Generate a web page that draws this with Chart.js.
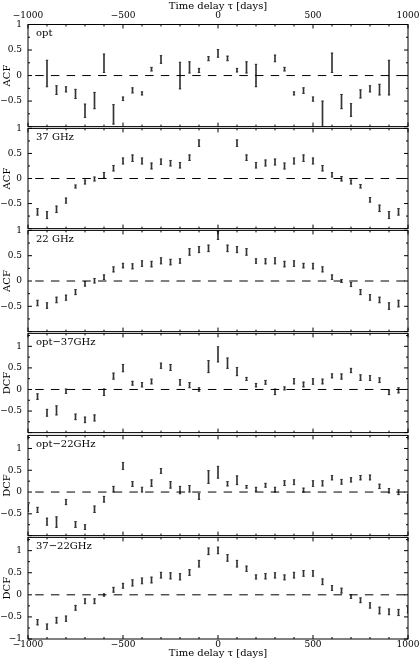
<!DOCTYPE html>
<html>
<head>
<meta charset="utf-8">
<script src="https://cdn.jsdelivr.net/npm/chart.js@4.4.1/dist/chart.umd.min.js"></script>
<style>
  body { margin: 0; background: #fff; }
  #stage { position: relative; width: 420px; height: 664px; overflow: hidden; }
  #stage canvas { position: absolute; left: 0; }
</style>
</head>
<body>
<div id="stage"></div>
<script>
// time lags (days), one slot every 50 days
const lags = [-1000, -950, -900, -850, -800, -750, -700, -650, -600, -550, -500,
  -450, -400, -350, -300, -250, -200, -150, -100, -50, 0,
  50, 100, 150, 200, 250, 300, 350, 400, 450, 500,
  550, 600, 650, 700, 750, 800, 850, 900, 950, 1000];

// lower / upper end of each error bar, null = no point
const optLo = [null, null, -0.22, -0.37, -0.32, -0.45, -0.82, -0.65, 0.06, -0.95, -0.49,
  -0.34, -0.38, 0.09, 0.24, null, -0.26, 0.05, 0.06, 0.29, 0.36,
  0.29, 0.07, 0.05, -0.22, null, 0.27, 0.09, -0.38, -0.35, -0.50,
  -1.05, 0.06, -0.65, -0.80, -0.44, -0.32, -0.38, -0.38, null, null];
const optHi = [null, null, 0.30, -0.20, -0.22, -0.27, -0.56, -0.33, 0.42, -0.57, -0.42,
  -0.24, -0.32, 0.16, 0.39, null, 0.26, 0.27, 0.14, 0.37, 0.51,
  0.38, 0.14, 0.27, 0.22, null, 0.40, 0.16, -0.32, -0.24, -0.42,
  -0.50, 0.44, -0.37, -0.55, -0.28, -0.20, -0.17, 0.30, null, null];

const g37Lo = [null, -0.73, -0.80, -0.68, -0.49, -0.19, -0.11, -0.05, 0.01, 0.15, 0.29,
  0.34, 0.29, 0.19, 0.28, 0.25, 0.21, 0.36, 0.64, null, null,
  null, 0.64, 0.36, 0.21, 0.25, 0.27, 0.19, 0.29, 0.34, 0.29,
  0.15, 0.03, -0.05, -0.11, -0.19, -0.47, -0.66, -0.80, -0.73, null];
const g37Hi = [null, -0.60, -0.66, -0.55, -0.39, -0.13, -0.03, 0.03, 0.12, 0.26, 0.41,
  0.47, 0.41, 0.31, 0.39, 0.36, 0.32, 0.47, 0.77, null, null,
  null, 0.77, 0.47, 0.32, 0.37, 0.39, 0.31, 0.41, 0.47, 0.41,
  0.26, 0.12, 0.04, -0.03, -0.12, -0.38, -0.53, -0.66, -0.60, null];

const g22Lo = [null, -0.49, -0.54, -0.43, -0.38, -0.27, -0.10, -0.04, 0.03, 0.18, 0.26,
  0.24, 0.29, 0.28, 0.34, 0.32, 0.35, 0.51, 0.56, 0.58, 0.82,
  0.58, 0.56, 0.51, 0.35, 0.34, 0.34, 0.28, 0.29, 0.26, 0.24,
  0.18, 0.03, -0.03, -0.11, -0.27, -0.38, -0.43, -0.56, -0.51, null];
const g22Hi = [null, -0.38, -0.43, -0.32, -0.28, -0.17, -0.01, 0.05, 0.12, 0.28, 0.35,
  0.34, 0.40, 0.39, 0.46, 0.43, 0.44, 0.64, 0.68, 0.71, 0.98,
  0.71, 0.68, 0.64, 0.44, 0.44, 0.46, 0.39, 0.40, 0.35, 0.35,
  0.28, 0.12, 0.03, -0.03, -0.17, -0.27, -0.32, -0.43, -0.38, null];

const o37Lo = [null, -0.23, -0.62, -0.59, -0.09, -0.70, -0.77, -0.73, -0.14, 0.24, 0.41,
  0.10, 0.06, 0.13, 0.49, 0.44, 0.10, 0.04, -0.04, 0.39, 0.64,
  0.49, 0.32, 0.21, 0.06, 0.12, -0.12, -0.01, 0.13, 0.06, 0.12,
  0.13, 0.27, 0.24, 0.39, 0.21, 0.21, 0.16, -0.12, -0.08, null];
const o37Hi = [null, -0.10, -0.46, -0.38, 0.01, -0.57, -0.64, -0.59, 0.01, 0.38, 0.58,
  0.19, 0.16, 0.24, 0.61, 0.58, 0.23, 0.16, 0.04, 0.67, 0.99,
  0.73, 0.51, 0.28, 0.14, 0.21, 0.01, 0.06, 0.25, 0.17, 0.25,
  0.24, 0.36, 0.36, 0.49, 0.34, 0.32, 0.27, -0.01, 0.04, null];

const o22Lo = [-0.44, -0.47, -0.76, -0.81, -0.29, -0.81, -0.86, -0.47, -0.23, 0.00, 0.52,
  0.13, 0.00, 0.13, 0.43, 0.09, -0.04, 0.00, -0.17, 0.20, 0.32,
  0.14, 0.17, 0.09, 0.02, 0.11, 0.00, 0.15, 0.17, 0.00, 0.13,
  0.14, 0.28, 0.18, 0.23, 0.28, 0.28, 0.08, -0.02, -0.06, -0.21];
const o22Hi = [-0.29, -0.35, -0.60, -0.57, -0.17, -0.68, -0.75, -0.32, -0.10, 0.13, 0.68,
  0.24, 0.11, 0.28, 0.54, 0.24, 0.13, 0.15, -0.04, 0.49, 0.59,
  0.24, 0.37, 0.15, 0.11, 0.20, 0.11, 0.26, 0.28, 0.09, 0.26,
  0.26, 0.38, 0.29, 0.33, 0.38, 0.39, 0.18, 0.08, 0.05, -0.06];

const r3722Lo = [null, -0.68, -0.78, -0.64, -0.60, -0.35, -0.20, -0.20, -0.03, 0.06, 0.15,
  0.20, 0.25, 0.27, 0.38, 0.36, 0.34, 0.44, 0.63, 0.91, 0.93,
  0.76, 0.63, 0.53, 0.36, 0.36, 0.38, 0.34, 0.38, 0.42, 0.42,
  0.23, 0.10, 0.04, -0.08, -0.18, -0.30, -0.43, -0.45, -0.47, -0.41];
const r3722Hi = [null, -0.56, -0.66, -0.51, -0.48, -0.24, -0.09, -0.09, 0.02, 0.17, 0.26,
  0.34, 0.38, 0.40, 0.51, 0.50, 0.48, 0.57, 0.78, 1.06, 1.08,
  0.91, 0.78, 0.65, 0.45, 0.48, 0.50, 0.45, 0.51, 0.55, 0.55,
  0.36, 0.21, 0.15, 0.00, -0.07, -0.18, -0.28, -0.32, -0.33, -0.28];

const xTickLabels = [-1000, -500, 0, 500, 1000];
const yTickLabels = [-0.5, 0, 0.5, 1];
const yTickLabelsLast = [-1, -0.5, 0, 0.5, 1];

const panels = [
  { name: 'opt', axis: 'ACF', lo: optLo, hi: optHi, max: 1 },
  { name: '37 GHz', axis: 'ACF', lo: g37Lo, hi: g37Hi, max: 1 },
  { name: '22 GHz', axis: 'ACF', lo: g22Lo, hi: g22Hi, max: 1 },
  { name: 'opt\u221237GHz', axis: 'DCF', lo: o37Lo, hi: o37Hi, max: 1.3 },
  { name: 'opt\u221222GHz', axis: 'DCF', lo: o22Lo, hi: o22Hi, max: 1.3 },
  { name: '37\u221222GHz', axis: 'DCF', lo: r3722Lo, hi: r3722Hi, max: 1.3 }
];

// page geometry
const PAGE_W = 420, PAGE_H = 664;
const edges = [24.5, 127.3, 229.3, 332.3, 434, 536.7, 639];
const PLOT_LEFT = 28, PLOT_RIGHT = 408;
const FONT = { family: 'DejaVu Serif', size: 10, lineHeight: 1.2 };
const TICK_FONT = { family: 'DejaVu Serif', size: 9, lineHeight: 1.2 };
const INK = '#000', BAR = '#333';

const fmt = v => (v < 0 ? '\u2212' : '') + Math.abs(v);

// box, inward ticks and the panel name
const frame = {
  id: 'frame',
  afterDatasetsDraw(chart, args, opts) {
    const { ctx, chartArea: a, scales: { x, y } } = chart;
    ctx.save();
    ctx.strokeStyle = INK;
    ctx.lineWidth = 1;
    ctx.strokeRect(a.left, a.top, a.width, a.height);
    ctx.beginPath();
    for (let t = -1000; t <= 1000; t += 100) {
      const px = x.getPixelForValue(t);
      const len = t % 500 === 0 ? 4 : 2;
      ctx.moveTo(px, a.top); ctx.lineTo(px, a.top + len);
      ctx.moveTo(px, a.bottom); ctx.lineTo(px, a.bottom - len);
    }
    for (let q = -4; q <= opts.max * 4 + 1e-6; q++) {
      const py = y.getPixelForValue(q / 4);
      const len = q % 2 === 0 ? 4 : 2;
      ctx.moveTo(a.left, py); ctx.lineTo(a.left + len, py);
      ctx.moveTo(a.right, py); ctx.lineTo(a.right - len, py);
    }
    ctx.stroke();
    ctx.fillStyle = INK;
    ctx.font = `${FONT.size}px "${FONT.family}"`;
    ctx.textBaseline = 'middle';
    ctx.fillText(opts.name, a.left + 8, a.top + 9);
    ctx.restore();
  }
};

const stage = document.getElementById('stage');

panels.forEach((p, i) => {
  const first = i === 0, last = i === panels.length - 1;
  const top = edges[i], bottom = edges[i + 1];
  const canvasTop = first ? 0 : Math.floor(top - 10);
  const canvasBottom = last ? PAGE_H : Math.ceil(bottom + 10);

  const canvas = document.createElement('canvas');
  canvas.width = PAGE_W;
  canvas.height = canvasBottom - canvasTop;
  canvas.style.top = canvasTop + 'px';
  stage.appendChild(canvas);

  const bars = [], caps = [];
  lags.forEach((t, k) => {
    if (p.lo[k] == null) return;
    bars.push({ x: t, y: [p.lo[k], p.hi[k]] });
    caps.push({ x: t, y: p.lo[k] }, { x: t, y: p.hi[k] });
  });

  const showX = first || last;

  new Chart(canvas, {
    type: 'scatter',
    data: {
      datasets: [
        {
          type: 'line',
          data: [{ x: -1000, y: 0 }, { x: 1000, y: 0 }],
          borderColor: INK,
          borderWidth: 1,
          borderDash: [8.5, 7.2],
          borderDashOffset: 8.5,
          pointRadius: 0,
          clip: 0
        },
        {
          type: 'bar',
          data: bars,
          backgroundColor: BAR,
          borderWidth: 0,
          barThickness: 1,
          grouped: false,
          clip: 0
        },
        {
          data: caps,
          pointStyle: 'line',
          radius: 1.2,
          borderColor: BAR,
          borderWidth: 1,
          clip: 0
        }
      ]
    },
    options: {
      responsive: false,
      animation: false,
      events: [],
      layout: {
        padding: {
          left: 0,
          right: PAGE_W - PLOT_RIGHT,
          top: first ? 0 : top - canvasTop,
          bottom: last ? 0 : canvasBottom - bottom
        }
      },
      plugins: {
        legend: { display: false },
        tooltip: { enabled: false },
        frame: { name: p.name, max: p.max }
      },
      scales: {
        x: {
          type: 'linear',
          position: first ? 'top' : 'bottom',
          display: showX,
          min: -1000,
          max: 1000,
          offset: false,
          grid: { display: false, drawTicks: false },
          border: { display: false },
          afterBuildTicks: s => { s.ticks = xTickLabels.map(v => ({ value: v })); },
          afterFit: s => {
            if (showX) s.height = first ? edges[0] : PAGE_H - edges[edges.length - 1];
            s.paddingLeft = 0;
            s.paddingRight = 0;
          },
          ticks: {
            autoSkip: false,
            maxRotation: 0,
            padding: first ? 3 : 0.5,
            color: INK,
            font: TICK_FONT,
            callback: v => fmt(v)
          },
          title: {
            display: true,
            text: 'Time delay \u03c4 [days]',
            color: INK,
            font: FONT,
            padding: first ? { top: 0, bottom: 0 } : { top: 0, bottom: 5 }
          }
        },
        y: {
          type: 'linear',
          min: -1,
          max: p.max,
          grid: { display: false, drawTicks: false },
          border: { display: false },
          afterBuildTicks: s => {
            s.ticks = (last ? yTickLabelsLast : yTickLabels).map(v => ({ value: v }));
          },
          afterFit: s => { s.width = PLOT_LEFT; },
          ticks: {
            padding: 6,
            color: INK,
            font: TICK_FONT,
            callback: v => fmt(v)
          },
          title: {
            display: true,
            text: p.axis,
            color: INK,
            font: FONT,
            padding: { top: 1.3, bottom: 0 }
          }
        }
      }
    },
    plugins: [frame]
  });
});
</script>
</body>
</html>
